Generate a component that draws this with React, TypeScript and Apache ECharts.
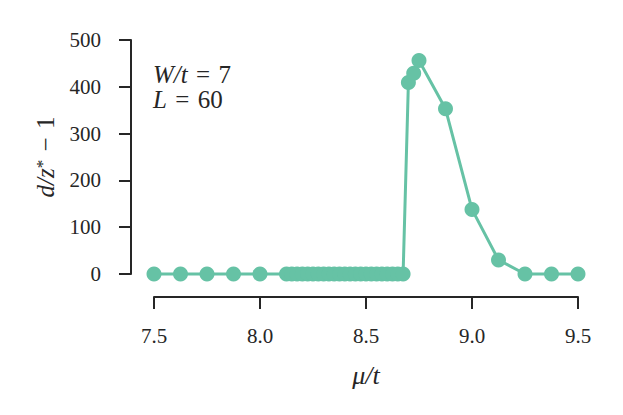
import React, { useEffect, useRef } from "react";
import * as echarts from "echarts";

const muValues = [
  7.5, 7.625, 7.75, 7.875, 8.0,
  8.125, 8.15, 8.175, 8.2, 8.225, 8.25, 8.275, 8.3, 8.325, 8.35, 8.375, 8.4,
  8.425, 8.45, 8.475, 8.5, 8.525, 8.55, 8.575, 8.6, 8.625, 8.65, 8.675,
  8.7, 8.725, 8.75, 8.875, 9.0, 9.125, 9.25, 9.375, 9.5,
];
const dValues = [
  0, 0, 0, 0, 0,
  0, 0, 0, 0, 0, 0, 0, 0, 0, 0, 0, 0,
  0, 0, 0, 0, 0, 0, 0, 0, 0, 0, 0,
  409, 429, 456, 353, 138, 30, 0, 0, 0,
];
const annotationLines = ["{i|W/t}\u2004=\u20047", "{i|L}\u2004=\u200460"];

export default function App() {
  const ref = useRef<HTMLDivElement>(null);
  useEffect(() => {
    const chart = echarts.init(ref.current!, null, { renderer: "svg" });
    const font = "Liberation Serif";
    const ink = "#262626";
    const green = "#66c2a5";
    const data = muValues.map((m, i) => [m, dValues[i]]);
    chart.setOption({
      animation: false,
      grid: { left: 154, right: 45, top: 40, bottom: 141 },
      xAxis: {
        type: "value",
        min: 7.5,
        max: 9.5,
        interval: 0.5,
        offset: 23,
        axisLine: { show: true, onZero: false, lineStyle: { color: ink, width: 2 } },
        axisTick: { show: true, length: 12, lineStyle: { color: ink, width: 2 } },
        axisLabel: {
          margin: 28,
          formatter: (v: number) => v.toFixed(1),
          fontFamily: font,
          fontSize: 21,
          color: ink,
        },
        splitLine: { show: false },
        name: "μ/t",
        nameLocation: "middle",
        nameGap: 65,
        nameTextStyle: { fontFamily: font, fontStyle: "italic", fontSize: 26, color: ink },
      },
      yAxis: {
        type: "value",
        min: 0,
        max: 500,
        interval: 100,
        offset: 23,
        axisLine: { show: true, onZero: false, lineStyle: { color: ink, width: 2 } },
        axisTick: { show: true, length: 12, lineStyle: { color: ink, width: 2 } },
        axisLabel: { margin: 30, fontFamily: font, fontSize: 21, color: ink },
        splitLine: { show: false },
        name: "{i|d/z}{s|*}{r|\u2004−\u20041}",
        nameLocation: "middle",
        nameGap: 73,
        nameTextStyle: {
          color: ink,
          rich: {
            i: { fontFamily: font, fontStyle: "italic", fontSize: 25, color: ink },
            s: { fontFamily: font, fontSize: 17, color: ink, padding: [0, 0, 6, 0] },
            r: { fontFamily: font, fontSize: 25, color: ink },
          },
        },
      },
      graphic: annotationLines.map((line, k) => ({
        type: "text",
        left: 153,
        top: 62 + k * 25,
        style: {
          text: line,
          fontFamily: font,
          fontSize: 25,
          lineHeight: 25,
          fill: ink,
          rich: {
            i: { fontFamily: font, fontStyle: "italic", fontSize: 25, lineHeight: 25, fill: ink },
          },
        },
      })),
      series: [
        {
          type: "line",
          data,
          clip: false,
          symbol: "circle",
          symbolSize: 15,
          lineStyle: { color: green, width: 3 },
          itemStyle: { color: green, borderWidth: 0 },
        },
      ],
    });
    return () => chart.dispose();
  }, []);
  return (
    <div
      ref={ref}
      style={{ position: "fixed", left: 0, top: 0, width: 623, height: 415, background: "#fff" }}
    />
  );
}
